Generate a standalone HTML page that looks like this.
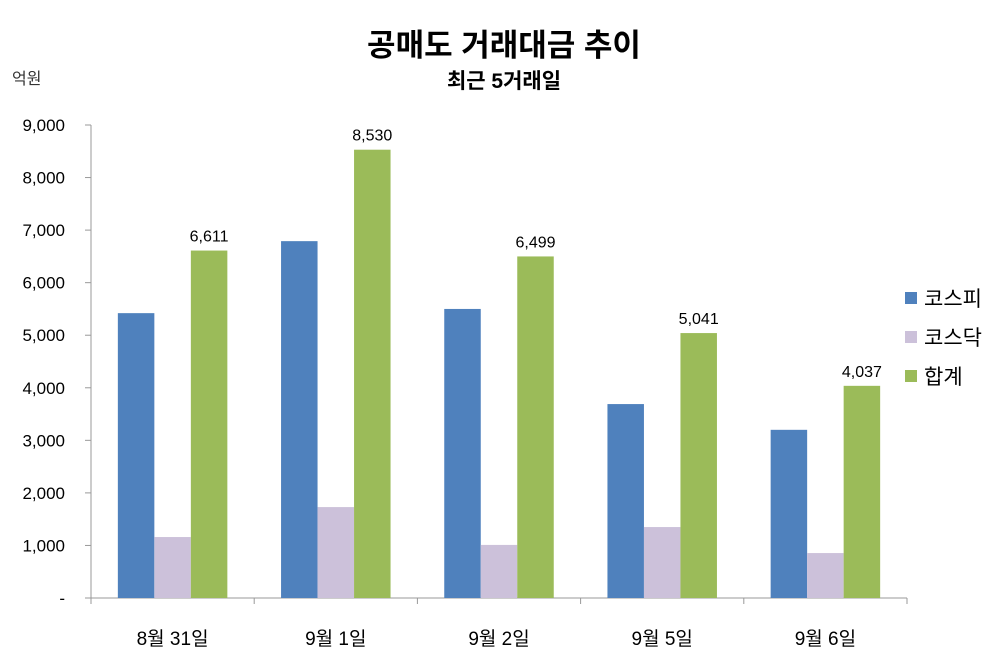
<!DOCTYPE html>
<html><head><meta charset="utf-8">
<style>
body{margin:0;background:#fff;}
svg text{font-family:"Liberation Sans","Noto Sans CJK KR",sans-serif;}
</style></head>
<body>
<svg width="1000" height="659" xmlns="http://www.w3.org/2000/svg">
<text x="504" y="56" text-anchor="middle" font-size="31" font-weight="bold">공매도 거래대금 추이</text>
<text x="504" y="88" text-anchor="middle" font-size="21" font-weight="bold">최근 5거래일</text>
<text x="12" y="84" font-size="16" fill="#333">억원</text>
<g id="plot"></g>
<g id="legend"></g>
</svg>
<script>
const categories=["8월 31일","9월 1일","9월 2일","9월 5일","9월 6일"];
const kospi=[5420,6790,5500,3690,3200];
const kosdaq=[1160,1730,1010,1350,855];
const total=[6611,8530,6499,5041,4037];
const yTicks=[0,1000,2000,3000,4000,5000,6000,7000,8000,9000];
const seriesNames=["코스피","코스닥","합계"];
const colors=["#4F81BD","#CCC1DA","#9BBB59"];
const NS="http://www.w3.org/2000/svg";
const g=document.getElementById('plot');
const x0=91,x1=907,y0=598,yTop=125,yMax=9000;
const y=v=>y0-(v/yMax)*(y0-yTop);
const gw=(x1-x0)/categories.length;
const bw=36.5;
function mk(t,a,p){const e=document.createElementNS(NS,t);for(const k in a)e.setAttribute(k,a[k]);(p||g).appendChild(e);return e;}
yTicks.forEach(v=>{
  const l=mk('line',{x1:x0-6,x2:x0,y1:y(v),y2:y(v),stroke:'#999'});
  
  
  const t=mk('text',{x:65,y:y(v)+6,'text-anchor':'end','font-size':17});
  t.textContent=v===0?'-':v.toLocaleString('en-US');
  
  
});
const ya=mk('line',{x1:x0,x2:x0,y1:yTop,y2:y0,stroke:'#999'});


const xa=mk('line',{x1:x0,x2:x1,y1:y0,y2:y0,stroke:'#999'});


for(let i=0;i<=categories.length;i++){
  const tk=mk('line',{x1:x0+i*gw,x2:x0+i*gw,y1:y0,y2:y0+6,stroke:'#999'});
  
  
}
const series=[kospi,kosdaq,total];
categories.forEach((c,i)=>{
  const cx=x0+gw*(i+0.5);
  series.forEach((s,j)=>{
    const bx=cx-1.5*bw+j*bw;
    const r=mk('rect',{x:bx,y:y(s[i]),width:bw,height:y0-y(s[i]),fill:colors[j]});
    
    
  });
  const lt=mk('text',{x:cx+bw,y:y(total[i])-9,'text-anchor':'middle','font-size':16});
  lt.textContent=total[i].toLocaleString('en-US');
  
  
  const ct=mk('text',{x:cx,y:645,'text-anchor':'middle','font-size':19});
  ct.textContent=c;
  
  
});
const lg=document.getElementById('legend');
seriesNames.forEach((n,j)=>{
  const yy=298+j*39;
  const sq=mk('rect',{x:905,y:yy-6,width:12,height:12,fill:colors[j]},lg);
  
  
  const t=mk('text',{x:924,y:yy+8,'font-size':21},lg);
  t.textContent=n;
  
  
});
</script>
</body></html>
